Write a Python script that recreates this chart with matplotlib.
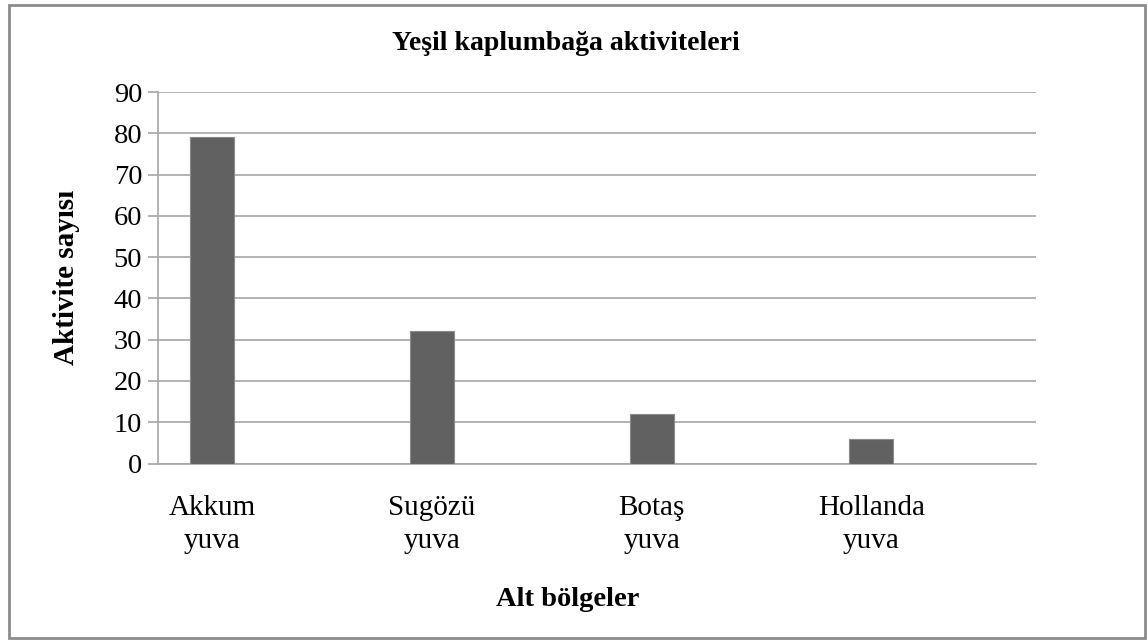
import matplotlib
matplotlib.use("Agg")
import matplotlib.pyplot as plt
from matplotlib.patches import Rectangle

plt.rcParams['font.family'] = ['Liberation Serif', 'DejaVu Serif']

categories = ["Akkum\nyuva", "Sugözü\nyuva", "Botaş\nyuva", "Hollanda\nyuva"]
values = [79, 32, 12, 6]
yticks = [0, 10, 20, 30, 40, 50, 60, 70, 80, 90]
title = "Yeşil kaplumbağa aktiviteleri"
xlabel = "Alt bölgeler"
ylabel = "Aktivite sayısı"

W, H = 1148, 641
fig = plt.figure(figsize=(W / 100, H / 100), dpi=100)
fig.patch.set_facecolor("white")

# outer chart border
fig.add_artist(Rectangle((8.5 / W, 1 - 637.5 / H), (1145 - 8.5) / W, (637.5 - 4.5) / H,
                         transform=fig.transFigure, fill=False,
                         edgecolor="#8c8c8c", linewidth=2.0))

ax = fig.add_axes([157.5 / W, 1 - 463.5 / H, (1036 - 157.5) / W, (463.5 - 92) / H])
x = list(range(len(categories)))
ax.bar(x, values, width=0.2, color="#616161", edgecolor="#8a8a8a", linewidth=0.8, zorder=3)
ax.set_xlim(-0.25, 3.75)
ax.set_ylim(0, 90)
ax.set_yticks(yticks)
ax.yaxis.grid(True, color="#a6a6a6", linewidth=1.2, zorder=0)
ax.set_axisbelow(True)
for s in ["top", "right"]:
    ax.spines[s].set_visible(False)
ax.spines["left"].set_color("#a6a6a6")
ax.spines["left"].set_linewidth(1.2)
ax.spines["bottom"].set_color("#a6a6a6")
ax.spines["bottom"].set_linewidth(1.2)
ax.tick_params(axis="y", length=7, width=1.2, color="#a6a6a6", labelsize=20.5, pad=4)
ax.tick_params(axis="x", length=0, labelsize=21, pad=23)
ax.set_xticks(x)
ax.set_xticklabels(categories, linespacing=1.33)

fig.text(566 / W, 1 - 44 / H, title, ha="center", va="center",
         fontsize=20, fontweight="bold")
fig.text(568 / W, 1 - 599 / H, xlabel, ha="center", va="center",
         fontsize=20.5, fontweight="bold")
fig.text(66 / W, 1 - 277 / H, ylabel, ha="center", va="center",
         fontsize=21, fontweight="bold", rotation=90)

fig.savefig("out.png", dpi=100)
